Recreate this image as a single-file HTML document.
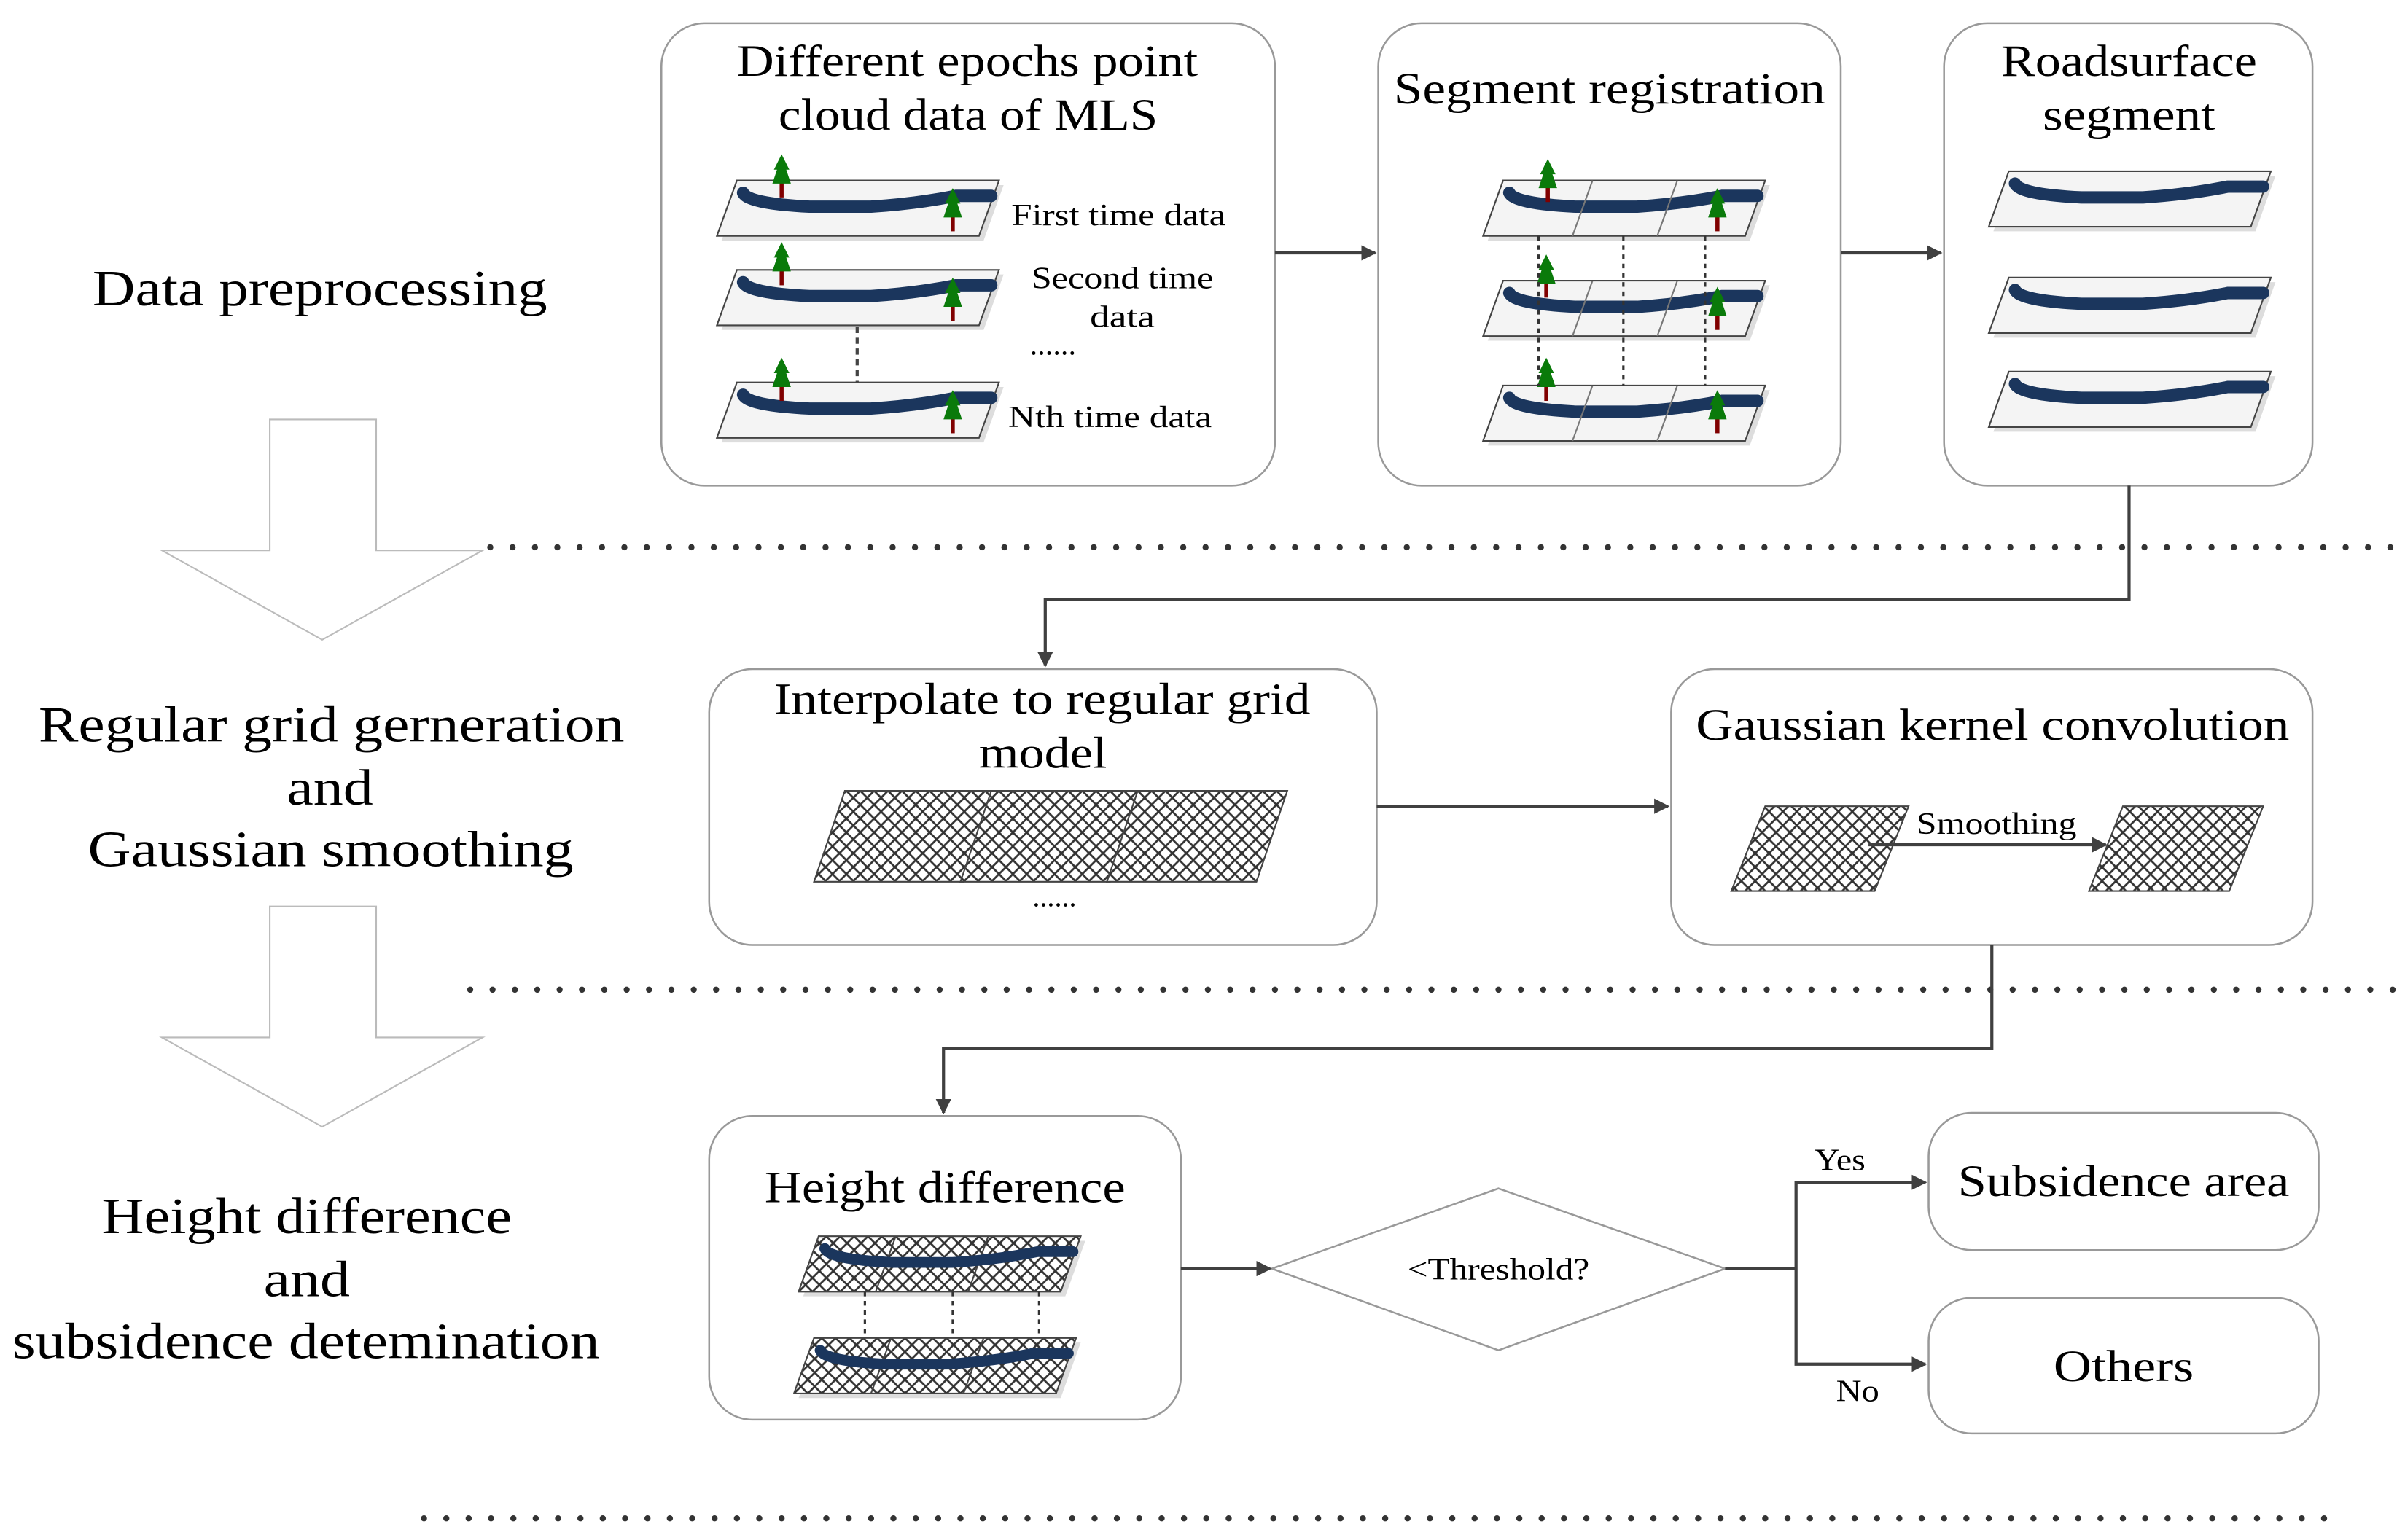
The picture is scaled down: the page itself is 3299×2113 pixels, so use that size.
<!DOCTYPE html>
<html><head><meta charset="utf-8"><style>html,body{margin:0;padding:0;background:#fff}svg{display:block}</style></head><body>
<svg width="3299" height="2113" viewBox="0 0 1560 999" xmlns="http://www.w3.org/2000/svg" font-family="'Liberation Serif', serif">
<defs>
<pattern id="grid" width="9" height="9" patternUnits="userSpaceOnUse">
<rect width="9" height="9" fill="#fff"/>
<path d="M0,0 L9,9 M9,0 L0,9" stroke="#333" stroke-width="1.3"/>
</pattern>
<marker id="ar" markerWidth="10" markerHeight="10" refX="9" refY="5" orient="auto" markerUnits="userSpaceOnUse"><path d="M0,0 L10,5 L0,10 z" fill="#404040"/></marker>
<g id="tree"><rect x="-1.3" y="18" width="2.6" height="10" fill="#800000"/><path d="M0,0 L-5,10 L-3,10 L-6,19 L6,19 L3,10 L5,10 z" fill="#0a7a0a"/></g>
<g id="plate">
<polygon points="16,3 186,3 173,39 3,39" fill="#ddd"/>
<polygon points="13,0 183,0 170,36 0,36" fill="#f4f4f4" stroke="#444" stroke-width="1"/>
<path d="M17,8 Q20,15 60,17 L100,17 Q130,15 155,10 L178,10" stroke="#1b365d" stroke-width="8" fill="none" stroke-linecap="round"/>
</g>
<g id="gplate">
<polygon points="16,3 186,3 173,39 3,39" fill="#ddd"/>
<polygon points="13,0 183,0 170,36 0,36" fill="url(#grid)" stroke="#444" stroke-width="1"/>
<line x1="63" y1="0" x2="50" y2="36" stroke="#444"/><line x1="123" y1="0" x2="110" y2="36" stroke="#444"/>
<path d="M17,8 Q20,15 60,17 L100,17 Q130,15 155,10 L178,10" stroke="#1b365d" stroke-width="7" fill="none" stroke-linecap="round"/>
</g>
</defs>
<rect width="1560" height="999" fill="#fff"/>

<line x1="318" y1="355" x2="1555" y2="355" stroke="#333" stroke-width="4" stroke-linecap="round" stroke-dasharray="0 14.5"/>
<line x1="305" y1="642" x2="1555" y2="642" stroke="#333" stroke-width="4" stroke-linecap="round" stroke-dasharray="0 14.5"/>
<line x1="275" y1="985" x2="1520" y2="985" stroke="#333" stroke-width="4" stroke-linecap="round" stroke-dasharray="0 14.5"/>

<path d="M175,272 L244,272 L244,357 L313,357 L209,415 L105,357 L175,357 z" fill="#fff" stroke="#bbb" stroke-width="1"/>
<path d="M175,588 L244,588 L244,673 L313,673 L209,731 L105,673 L175,673 z" fill="#fff" stroke="#bbb" stroke-width="1"/>

<g font-size="33" fill="#000" lengthAdjust="spacingAndGlyphs">
<text x="60" y="198" textLength="295" lengthAdjust="spacingAndGlyphs">Data preprocessing</text>
<text x="25" y="481" textLength="380" lengthAdjust="spacingAndGlyphs">Regular grid gerneration</text>
<text x="186" y="522" textLength="56" lengthAdjust="spacingAndGlyphs">and</text>
<text x="57" y="562" textLength="315" lengthAdjust="spacingAndGlyphs">Gaussian smoothing</text>
<text x="66" y="800" textLength="266" lengthAdjust="spacingAndGlyphs">Height difference</text>
<text x="171" y="841" textLength="56" lengthAdjust="spacingAndGlyphs">and</text>
<text x="8" y="881" textLength="381" lengthAdjust="spacingAndGlyphs">subsidence detemination</text>
</g>

<g fill="#fff" stroke="#999" stroke-width="1.2">
<rect x="429" y="15" width="398" height="300" rx="28"/>
<rect x="894" y="15" width="300" height="300" rx="28"/>
<rect x="1261" y="15" width="239" height="300" rx="28"/>
<rect x="460" y="434" width="433" height="179" rx="28"/>
<rect x="1084" y="434" width="416" height="179" rx="28"/>
<rect x="460" y="724" width="306" height="197" rx="28"/>
<rect x="1251" y="722" width="253" height="89" rx="28"/>
<rect x="1251" y="842" width="253" height="88" rx="28"/>
</g>

<g font-size="29" fill="#000">
<text x="478" y="49" textLength="299" lengthAdjust="spacingAndGlyphs">Different epochs point</text>
<text x="505" y="84" textLength="246" lengthAdjust="spacingAndGlyphs">cloud data of MLS</text>
<text x="904" y="67" textLength="280" lengthAdjust="spacingAndGlyphs">Segment registration</text>
<text x="1298" y="49" textLength="166" lengthAdjust="spacingAndGlyphs">Roadsurface</text>
<text x="1325" y="84" textLength="112" lengthAdjust="spacingAndGlyphs">segment</text>
<text x="502" y="463" textLength="348" lengthAdjust="spacingAndGlyphs">Interpolate to regular grid</text>
<text x="635" y="498" textLength="83" lengthAdjust="spacingAndGlyphs">model</text>
<text x="1100" y="480" textLength="385" lengthAdjust="spacingAndGlyphs">Gaussian kernel convolution</text>
<text x="496" y="780" textLength="234" lengthAdjust="spacingAndGlyphs">Height difference</text>
<text x="1270" y="776" textLength="215" lengthAdjust="spacingAndGlyphs">Subsidence area</text>
<text x="1332" y="896" textLength="91" lengthAdjust="spacingAndGlyphs">Others</text>
</g>

<use href="#plate" x="465" y="117"/>
<use href="#plate" x="465" y="175"/>
<use href="#plate" x="465" y="248"/>
<use href="#tree" x="507" y="100"/><use href="#tree" x="618" y="122"/>
<use href="#tree" x="507" y="157"/><use href="#tree" x="618" y="180"/>
<use href="#tree" x="507" y="232"/><use href="#tree" x="618" y="253"/>
<line x1="556" y1="212" x2="556" y2="248" stroke="#444" stroke-width="2" stroke-dasharray="4 3"/>
<g font-size="20" fill="#000">
<text x="656" y="146" textLength="139" lengthAdjust="spacingAndGlyphs">First time data</text>
<text x="669" y="187" textLength="118" lengthAdjust="spacingAndGlyphs">Second time</text>
<text x="707" y="212" textLength="42" lengthAdjust="spacingAndGlyphs">data</text>
<text x="668" y="230">......</text>
<text x="654" y="277" textLength="132" lengthAdjust="spacingAndGlyphs">Nth time data</text>
</g>

<g>
<use href="#plate" x="962" y="117"/>
<use href="#plate" x="962" y="182"/>
<use href="#plate" x="962" y="250"/>
<g stroke="#777" stroke-width="1"><line x1="1033" y1="117" x2="1020" y2="153"/><line x1="1088" y1="117" x2="1075" y2="153"/>
<line x1="1033" y1="182" x2="1020" y2="218"/><line x1="1088" y1="182" x2="1075" y2="218"/>
<line x1="1033" y1="250" x2="1020" y2="286"/><line x1="1088" y1="250" x2="1075" y2="286"/></g>
<use href="#tree" x="1004" y="103"/><use href="#tree" x="1114" y="122"/>
<use href="#tree" x="1003" y="165"/><use href="#tree" x="1114" y="186"/>
<use href="#tree" x="1003" y="232"/><use href="#tree" x="1114" y="253"/>
<g stroke="#333" stroke-width="1.5" stroke-dasharray="3 3">
<line x1="998" y1="153" x2="998" y2="250"/><line x1="1053" y1="153" x2="1053" y2="250"/><line x1="1106" y1="153" x2="1106" y2="250"/></g>
</g>

<use href="#plate" x="1290" y="111"/>
<use href="#plate" x="1290" y="180"/>
<use href="#plate" x="1290" y="241"/>

<g stroke="#444" stroke-width="1">
<polygon points="548,513 645,513 625,572 528,572" fill="url(#grid)"/>
<polygon points="643,513 740,513 720,572 623,572" fill="url(#grid)"/>
<polygon points="738,513 835,513 815,572 718,572" fill="url(#grid)"/>
</g>
<text x="684" y="588" font-size="19" text-anchor="middle">......</text>

<polygon points="1145,523 1238,523 1216,578 1123,578" fill="url(#grid)" stroke="#444"/>
<polygon points="1377,523 1468,523 1446,578 1355,578" fill="url(#grid)" stroke="#444"/>
<line x1="1212" y1="548" x2="1366" y2="548" stroke="#404040" stroke-width="2" marker-end="url(#ar)"/>
<text x="1243" y="541" font-size="20" textLength="104" lengthAdjust="spacingAndGlyphs">Smoothing</text>

<use href="#gplate" x="518" y="802"/>
<use href="#gplate" x="515" y="868"/>
<g stroke="#333" stroke-width="1.5" stroke-dasharray="3 3">
<line x1="561" y1="838" x2="561" y2="868"/><line x1="618" y1="838" x2="618" y2="868"/><line x1="674" y1="838" x2="674" y2="868"/></g>

<polygon points="972,771 1119,823 972,876 825,823" fill="#fff" stroke="#999" stroke-width="1.2"/>
<text x="913" y="830" font-size="20" textLength="118" lengthAdjust="spacingAndGlyphs">&lt;Threshold?</text>

<g stroke="#404040" stroke-width="2" fill="none">
<line x1="827" y1="164" x2="892" y2="164" marker-end="url(#ar)"/>
<line x1="1194" y1="164" x2="1259" y2="164" marker-end="url(#ar)"/>
<polyline points="1381,315 1381,389 678,389 678,432" marker-end="url(#ar)"/>
<line x1="893" y1="523" x2="1082" y2="523" marker-end="url(#ar)"/>
<polyline points="1292,613 1292,680 612,680 612,722" marker-end="url(#ar)"/>
<line x1="766" y1="823" x2="824" y2="823" marker-end="url(#ar)"/>
<line x1="1119" y1="823" x2="1165" y2="823"/>
<polyline points="1249,767 1165,767 1165,885 1249,885" marker-end="url(#ar)"/>
<line x1="1165" y1="767" x2="1249" y2="767" marker-end="url(#ar)"/>
</g>
<text x="1177" y="759" font-size="20" textLength="33" lengthAdjust="spacingAndGlyphs">Yes</text>
<text x="1191" y="909" font-size="20" textLength="28" lengthAdjust="spacingAndGlyphs">No</text>
</svg>
</body></html>
